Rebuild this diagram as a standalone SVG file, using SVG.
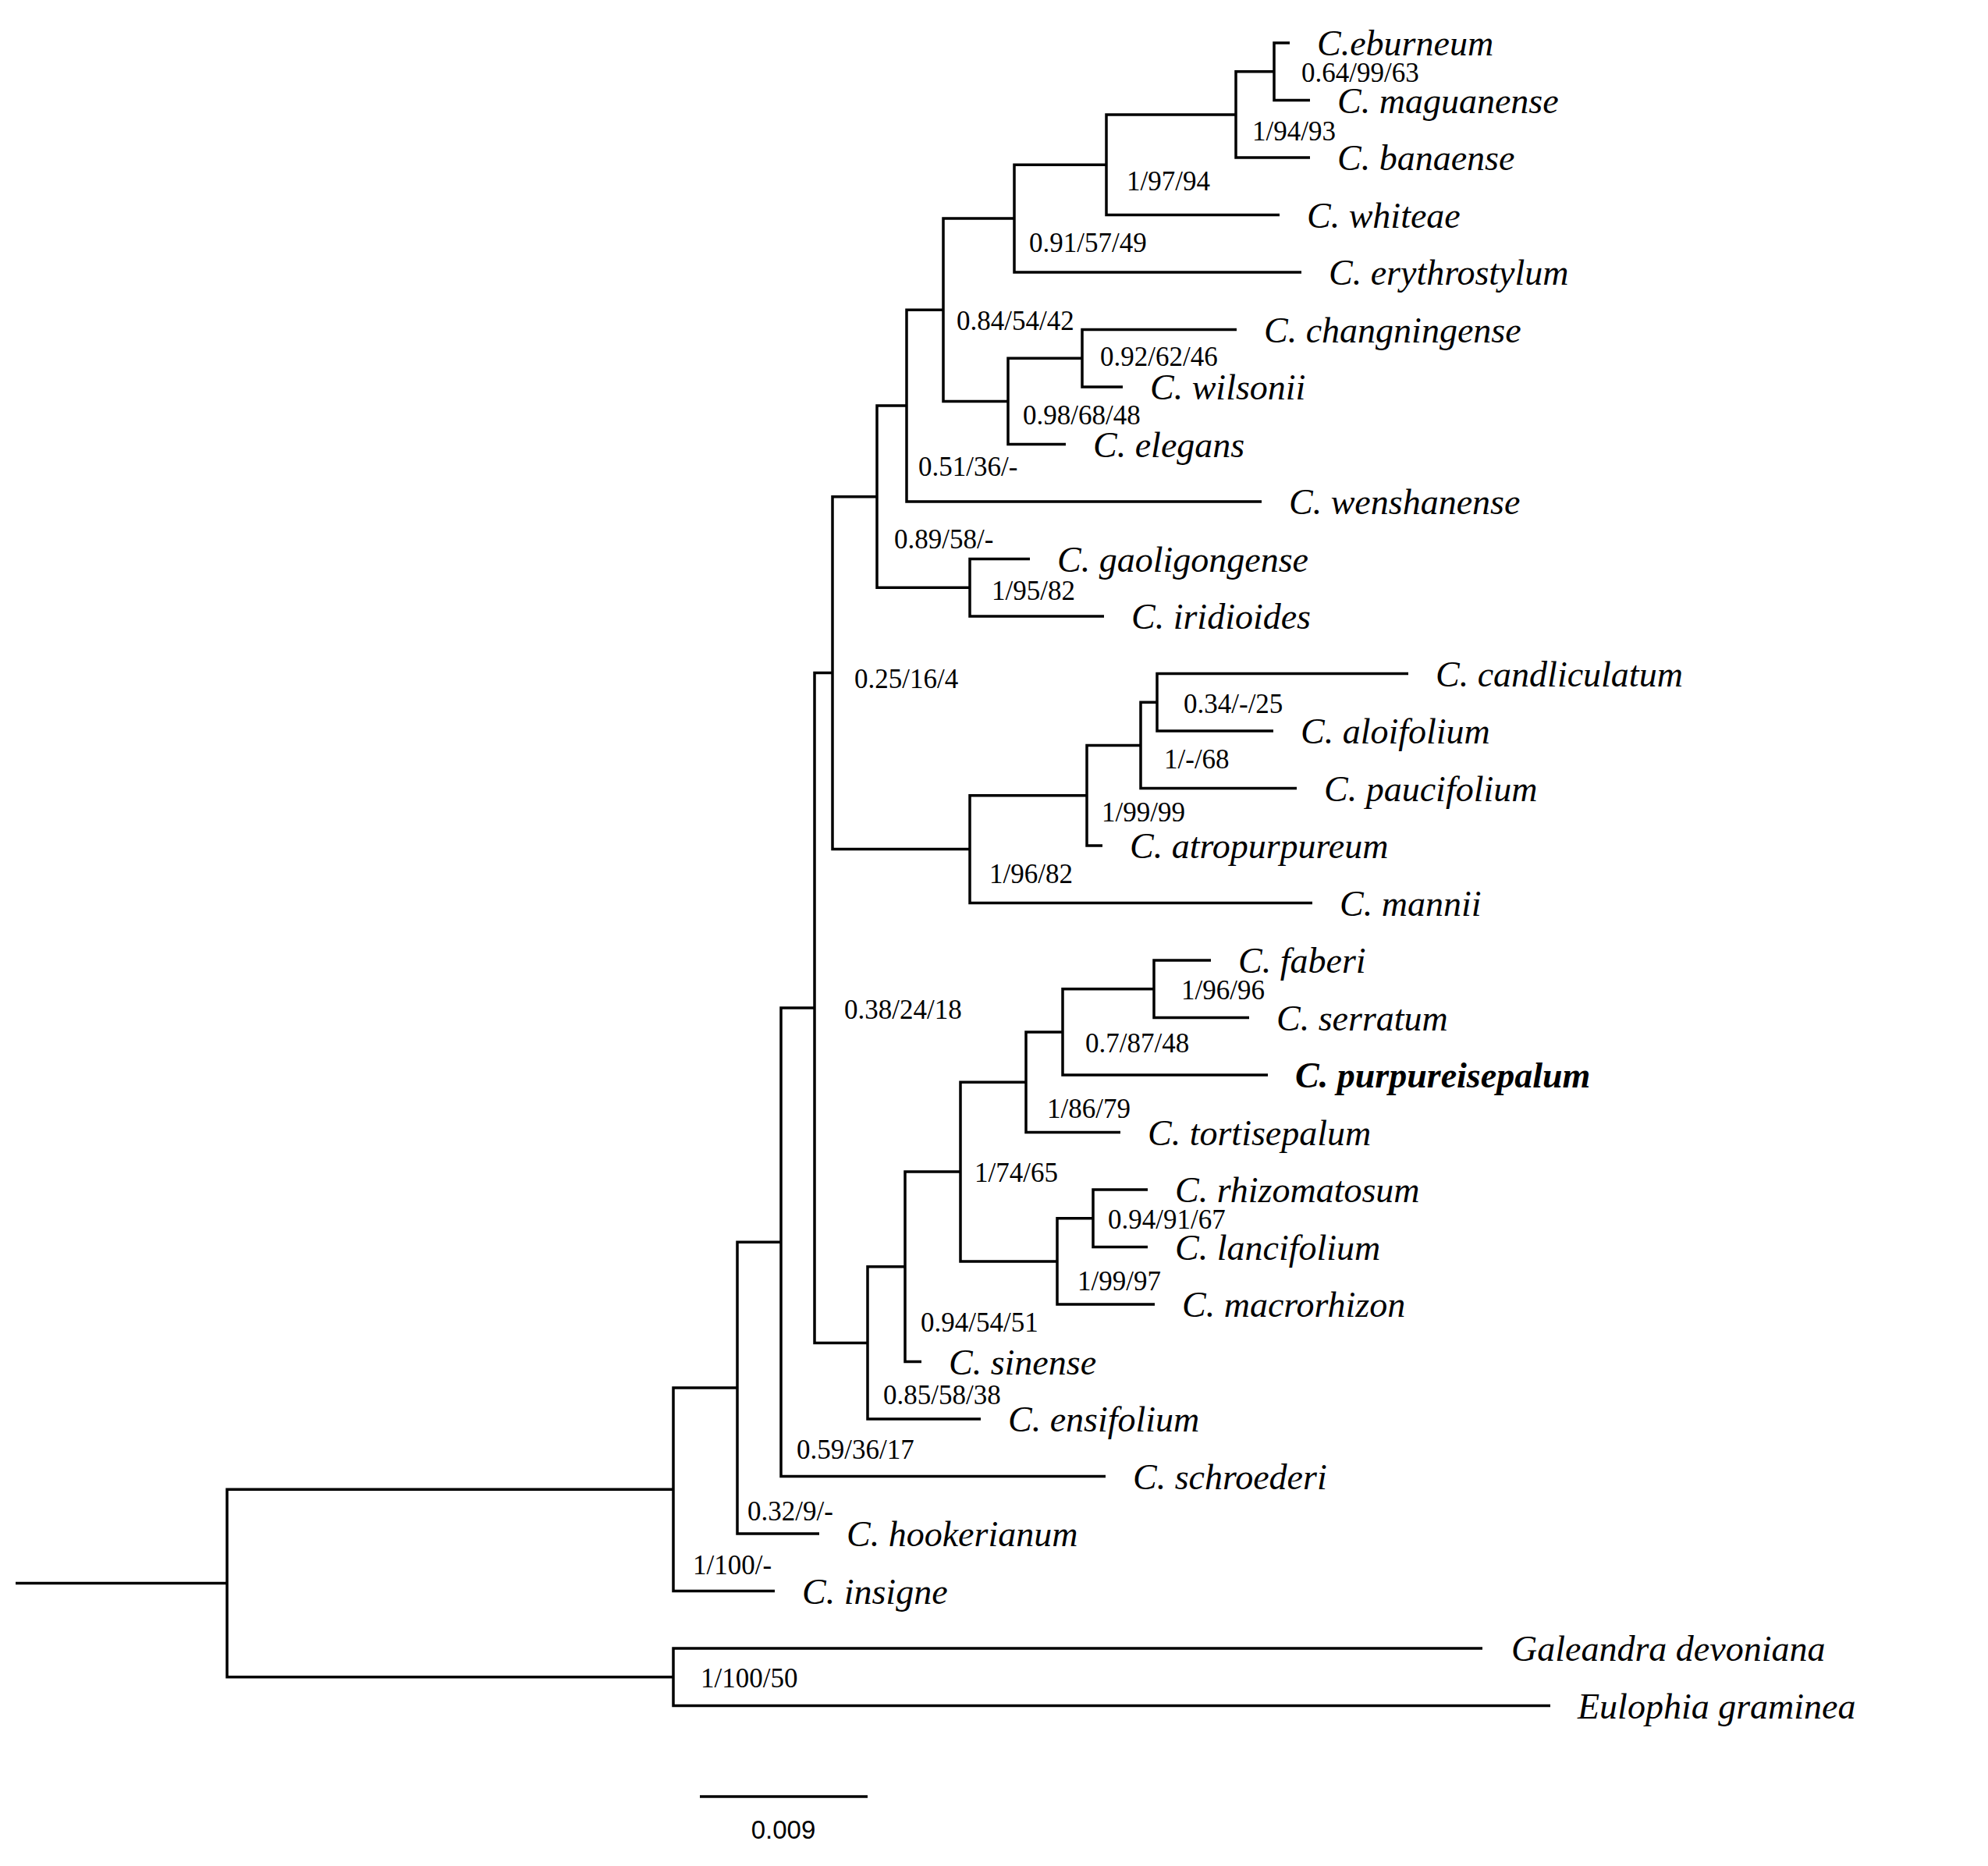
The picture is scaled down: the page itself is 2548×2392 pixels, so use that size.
<svg xmlns="http://www.w3.org/2000/svg" width="2548" height="2392" viewBox="0 0 2548 2392">
<style>
.br{fill:none;stroke:#000;stroke-width:3.5;stroke-linejoin:miter}
.sp{font-family:"Liberation Serif","Times New Roman",serif;font-style:italic;font-size:46px;fill:#000}
.b{font-weight:bold}
.su{font-family:"Liberation Serif","Times New Roman",serif;font-size:35px;fill:#000}
.sc{font-family:"Liberation Sans",Arial,sans-serif;font-size:33px;fill:#000}
</style>
<rect width="2548" height="2392" fill="#fff"/>
<g id="connectors">
<path class="br" d="M1653 55 H1633 V128.5 H1679"/>
<path class="br" d="M1633 91.75 H1584 V202 H1679"/>
<path class="br" d="M1584 146.9 H1418 V275.5 H1640"/>
<path class="br" d="M1418 211.2 H1300 V349 H1668"/>
<path class="br" d="M1585 422.5 H1387 V496 H1439"/>
<path class="br" d="M1387 459.25 H1292 V569.5 H1366"/>
<path class="br" d="M1300 280.1 H1209 V514.4 H1292"/>
<path class="br" d="M1209 397.2 H1162 V643 H1617"/>
<path class="br" d="M1320 716.5 H1243 V790 H1415"/>
<path class="br" d="M1162 520.1 H1124 V753.25 H1243"/>
<path class="br" d="M1805 863.5 H1483 V937 H1632"/>
<path class="br" d="M1483 900.25 H1462 V1010.5 H1662"/>
<path class="br" d="M1462 955.4 H1393 V1084 H1413"/>
<path class="br" d="M1393 1019.7 H1243 V1157.5 H1682"/>
<path class="br" d="M1124 636.7 H1067 V1088.6 H1243"/>
<path class="br" d="M1552 1231 H1479 V1304.5 H1601"/>
<path class="br" d="M1479 1267.75 H1362 V1378 H1625"/>
<path class="br" d="M1362 1322.9 H1315 V1451.5 H1436"/>
<path class="br" d="M1471 1525 H1401 V1598.5 H1471"/>
<path class="br" d="M1401 1561.75 H1355 V1672 H1480"/>
<path class="br" d="M1315 1387.2 H1231 V1616.9 H1355"/>
<path class="br" d="M1231 1502 H1160 V1745.5 H1181"/>
<path class="br" d="M1160 1623.8 H1112 V1819 H1257"/>
<path class="br" d="M1067 862.6 H1044 V1721.4 H1112"/>
<path class="br" d="M1044 1292 H1001 V1892.5 H1417"/>
<path class="br" d="M1001 1592.25 H945 V1966 H1050"/>
<path class="br" d="M945 1779.1 H863 V2039.5 H993"/>
<path class="br" d="M1900 2113 H863 V2186.5 H1987"/>
<path class="br" d="M863 1909.3 H291 V2149.75 H863"/>
<path class="br" d="M20 2029.5 H291"/>
</g>
<g id="taxa">
<g id="t-eburneum"><text class="sp" x="1688" y="71">C.eburneum</text></g>
<g id="t-maguanense"><text class="sp" x="1714" y="144.5">C. maguanense</text></g>
<g id="t-banaense"><text class="sp" x="1714" y="218">C. banaense</text></g>
<g id="t-whiteae"><text class="sp" x="1675" y="291.5">C. whiteae</text></g>
<g id="t-erythrostylum"><text class="sp" x="1703" y="365">C. erythrostylum</text></g>
<g id="t-changningense"><text class="sp" x="1620" y="438.5">C. changningense</text></g>
<g id="t-wilsonii"><text class="sp" x="1474" y="512">C. wilsonii</text></g>
<g id="t-elegans"><text class="sp" x="1401" y="585.5">C. elegans</text></g>
<g id="t-wenshanense"><text class="sp" x="1652" y="659">C. wenshanense</text></g>
<g id="t-gaoligongense"><text class="sp" x="1355" y="732.5">C. gaoligongense</text></g>
<g id="t-iridioides"><text class="sp" x="1450" y="806">C. iridioides</text></g>
<g id="t-candliculatum"><text class="sp" x="1840" y="879.5">C. candliculatum</text></g>
<g id="t-aloifolium"><text class="sp" x="1667" y="953">C. aloifolium</text></g>
<g id="t-paucifolium"><text class="sp" x="1697" y="1026.5">C. paucifolium</text></g>
<g id="t-atropurpureum"><text class="sp" x="1448" y="1100">C. atropurpureum</text></g>
<g id="t-mannii"><text class="sp" x="1717" y="1173.5">C. mannii</text></g>
<g id="t-faberi"><text class="sp" x="1587" y="1247">C. faberi</text></g>
<g id="t-serratum"><text class="sp" x="1636" y="1320.5">C. serratum</text></g>
<g id="t-purpureisepalum"><text class="sp b" x="1660" y="1394">C. purpureisepalum</text></g>
<g id="t-tortisepalum"><text class="sp" x="1471" y="1467.5">C. tortisepalum</text></g>
<g id="t-rhizomatosum"><text class="sp" x="1506" y="1541">C. rhizomatosum</text></g>
<g id="t-lancifolium"><text class="sp" x="1506" y="1614.5">C. lancifolium</text></g>
<g id="t-macrorhizon"><text class="sp" x="1515" y="1688">C. macrorhizon</text></g>
<g id="t-sinense"><text class="sp" x="1216" y="1761.5">C. sinense</text></g>
<g id="t-ensifolium"><text class="sp" x="1292" y="1835">C. ensifolium</text></g>
<g id="t-schroederi"><text class="sp" x="1452" y="1908.5">C. schroederi</text></g>
<g id="t-hookerianum"><text class="sp" x="1085" y="1982">C. hookerianum</text></g>
<g id="t-insigne"><text class="sp" x="1028" y="2055.5">C. insigne</text></g>
<g id="t-galeandra"><text class="sp" x="1937" y="2129">Galeandra devoniana</text></g>
<g id="t-eulophia"><text class="sp" x="2022" y="2202.5">Eulophia graminea</text></g>
</g>
<g id="nodes">
<g id="n1"><text class="su" x="1668" y="105">0.64/99/63</text></g>
<g id="n2"><text class="su" x="1605" y="180">1/94/93</text></g>
<g id="n3"><text class="su" x="1444" y="244">1/97/94</text></g>
<g id="n4"><text class="su" x="1319" y="323">0.91/57/49</text></g>
<g id="n7"><text class="su" x="1226" y="423">0.84/54/42</text></g>
<g id="n5"><text class="su" x="1410" y="469">0.92/62/46</text></g>
<g id="n6"><text class="su" x="1311" y="544">0.98/68/48</text></g>
<g id="n8"><text class="su" x="1177" y="610">0.51/36/-</text></g>
<g id="n10"><text class="su" x="1146" y="703">0.89/58/-</text></g>
<g id="n9"><text class="su" x="1271" y="769">1/95/82</text></g>
<g id="n15"><text class="su" x="1095" y="882">0.25/16/4</text></g>
<g id="n11"><text class="su" x="1517" y="914">0.34/-/25</text></g>
<g id="n12"><text class="su" x="1492" y="985">1/-/68</text></g>
<g id="n13"><text class="su" x="1412" y="1053">1/99/99</text></g>
<g id="n14"><text class="su" x="1268" y="1132">1/96/82</text></g>
<g id="n16"><text class="su" x="1514" y="1281">1/96/96</text></g>
<g id="n24"><text class="su" x="1082" y="1306">0.38/24/18</text></g>
<g id="n17"><text class="su" x="1391" y="1349">0.7/87/48</text></g>
<g id="n18"><text class="su" x="1342" y="1433">1/86/79</text></g>
<g id="n21"><text class="su" x="1249" y="1515">1/74/65</text></g>
<g id="n19"><text class="su" x="1420" y="1575">0.94/91/67</text></g>
<g id="n20"><text class="su" x="1381" y="1654">1/99/97</text></g>
<g id="n22"><text class="su" x="1180" y="1707">0.94/54/51</text></g>
<g id="n23"><text class="su" x="1132" y="1800">0.85/58/38</text></g>
<g id="n25"><text class="su" x="1021" y="1870">0.59/36/17</text></g>
<g id="n26"><text class="su" x="958" y="1949">0.32/9/-</text></g>
<g id="n27"><text class="su" x="888" y="2018">1/100/-</text></g>
<g id="n28"><text class="su" x="898" y="2163">1/100/50</text></g>
</g>
<g id="scalebar">
<path class="br" d="M897 2303 H1112"/>
<text class="sc" x="1004" y="2357" text-anchor="middle">0.009</text>
</g>
</svg>
